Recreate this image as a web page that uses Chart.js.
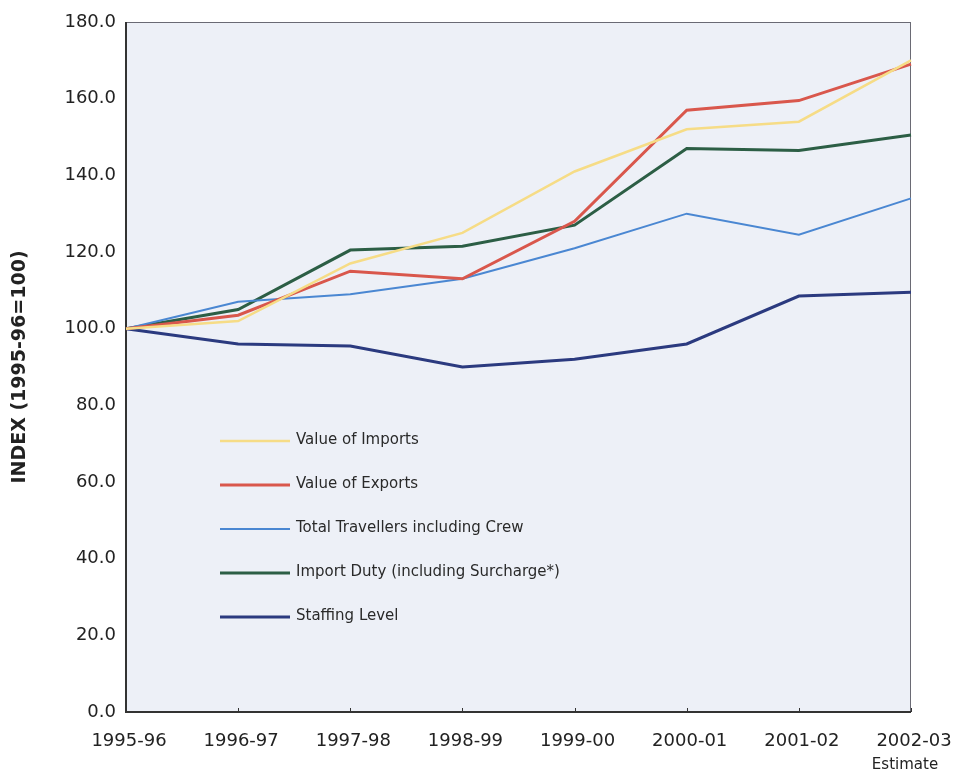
<!DOCTYPE html>
<html>
<head>
<meta charset="utf-8">
<script src="https://cdn.jsdelivr.net/npm/chart.js@4.4.0/dist/chart.umd.min.js"></script>
<style>
  html, body { margin: 0; padding: 0; background: #fff; }
  #wrap { width: 954px; height: 771px; }
</style>
</head>
<body>
<div id="wrap"><canvas id="indexChart" width="954" height="771"></canvas></div>
<script>
// ==========================
// Data
// ==========================
const categories = ["1995-96", "1996-97", "1997-98", "1998-99", "1999-00", "2000-01", "2001-02", "2002-03"];
const valueOfImports = [100, 102, 117, 125, 141, 152, 154, 170];
const valueOfExports = [100, 103.5, 115, 113, 128, 157, 159.5, 169];
const totalTravellers = [100, 107, 109, 113, 121, 130, 124.5, 134];
const importDuty = [100, 105, 120.5, 121.5, 127, 147, 146.5, 150.5];
const staffingLevel = [100, 96, 95.5, 90, 92, 96, 108.5, 109.5];
const yTicks = [0, 20, 40, 60, 80, 100, 120, 140, 160, 180];
const lastNote = "Estimate";

const FONT = "'DejaVu Sans', sans-serif";

// ==========================
// Plot background + frame + small x ticks
// ==========================
const framePlugin = {
    id: "frame",
    beforeDatasetsDraw(chart) {
        const { ctx, chartArea: a } = chart;
        ctx.save();
        ctx.fillStyle = "#edf0f7";
        ctx.fillRect(a.left, a.top, a.right - a.left, a.bottom - a.top);
        ctx.strokeStyle = "#6a6a74";
        ctx.lineWidth = 1;
        ctx.strokeRect(a.left + 0.5, a.top + 0.5, a.right - a.left - 1, a.bottom - a.top);
        ctx.strokeStyle = "#333";
        ctx.lineWidth = 2;
        ctx.beginPath();
        ctx.moveTo(a.left, a.top);
        ctx.lineTo(a.left, a.bottom);
        ctx.lineTo(a.right, a.bottom);
        ctx.stroke();
        const xs = chart.scales.x;
        ctx.lineWidth = 1;
        categories.forEach((c, i) => {
            const px = Math.round(xs.getPixelForValue(i)) + 0.5;
            ctx.beginPath();
            ctx.moveTo(px, a.bottom);
            ctx.lineTo(px, a.bottom - 4);
            ctx.stroke();
        });
        ctx.restore();
    },
    afterDraw(chart) {
        const { ctx } = chart;
        const xs = chart.scales.x;
        ctx.save();
        ctx.fillStyle = "#222";
        ctx.font = "15px " + FONT;
        ctx.textAlign = "center";
        ctx.textBaseline = "middle";
        ctx.fillText(lastNote, xs.getPixelForValue(categories.length - 1) - 6, 765);
        ctx.restore();
    }
};

// ==========================
// Legend drawn inside the plot
// ==========================
const insideLegend = {
    id: "insideLegend",
    afterDatasetsDraw(chart) {
        const { ctx } = chart;
        ctx.save();
        ctx.font = "15px " + FONT;
        ctx.textBaseline = "middle";
        ctx.textAlign = "left";
        chart.data.datasets.forEach((ds, i) => {
            const y = 441 + i * 44;
            ctx.strokeStyle = ds.borderColor;
            ctx.lineWidth = ds.borderWidth;
            ctx.beginPath();
            ctx.moveTo(220, y);
            ctx.lineTo(290, y);
            ctx.stroke();
            ctx.fillStyle = "#2a2a2a";
            ctx.fillText(ds.label, 296, y - 1);
        });
        ctx.restore();
    }
};

function series(label, data, color, width) {
    return {
        label: label,
        data: data,
        borderColor: color,
        backgroundColor: color,
        borderWidth: width,
        pointRadius: 0,
        tension: 0,
        fill: false
    };
}

new Chart(document.getElementById("indexChart").getContext("2d"), {
    type: "line",
    data: {
        labels: categories,
        datasets: [
            series("Value of Imports", valueOfImports, "#f6dc86", 2.5),
            series("Value of Exports", valueOfExports, "#d9574c", 3),
            series("Total Travellers including Crew", totalTravellers, "#4a87d2", 2),
            series("Import Duty (including Surcharge*)", importDuty, "#2c5e45", 3),
            series("Staffing Level", staffingLevel, "#2b3a7f", 3)
        ]
    },
    options: {
        responsive: false,
        animation: false,
        layout: { padding: { top: 22, right: 43, left: 0, bottom: 0 } },
        plugins: {
            legend: { display: false },
            tooltip: { enabled: false }
        },
        scales: {
            x: {
                offset: false,
                grid: { display: false, drawTicks: false },
                border: { display: false },
                ticks: {
                    color: "#222",
                    font: { family: FONT, size: 18 },
                    padding: 19,
                    labelOffset: 3,
                    maxRotation: 0,
                    autoSkip: false
                },
                afterFit(scale) {
                    scale.height = 59;
                    scale.paddingRight = 0;
                    scale.paddingLeft = 0;
                }
            },
            y: {
                min: 0,
                max: 180,
                grid: { display: false, drawTicks: false },
                border: { display: false },
                afterBuildTicks(scale) { scale.ticks = yTicks.map(v => ({ value: v })); },
                ticks: {
                    color: "#222",
                    font: { family: FONT, size: 18 },
                    padding: 10,
                    callback: v => Number(v).toFixed(1)
                },
                title: {
                    display: true,
                    text: "INDEX (1995-96=100)",
                    color: "#222",
                    font: { family: FONT, size: 19, weight: "bold" },
                    padding: { top: 9, bottom: 0 }
                },
                afterFit(scale) { scale.width = 126; }
            }
        }
    },
    plugins: [framePlugin, insideLegend]
});
</script>
</body>
</html>
